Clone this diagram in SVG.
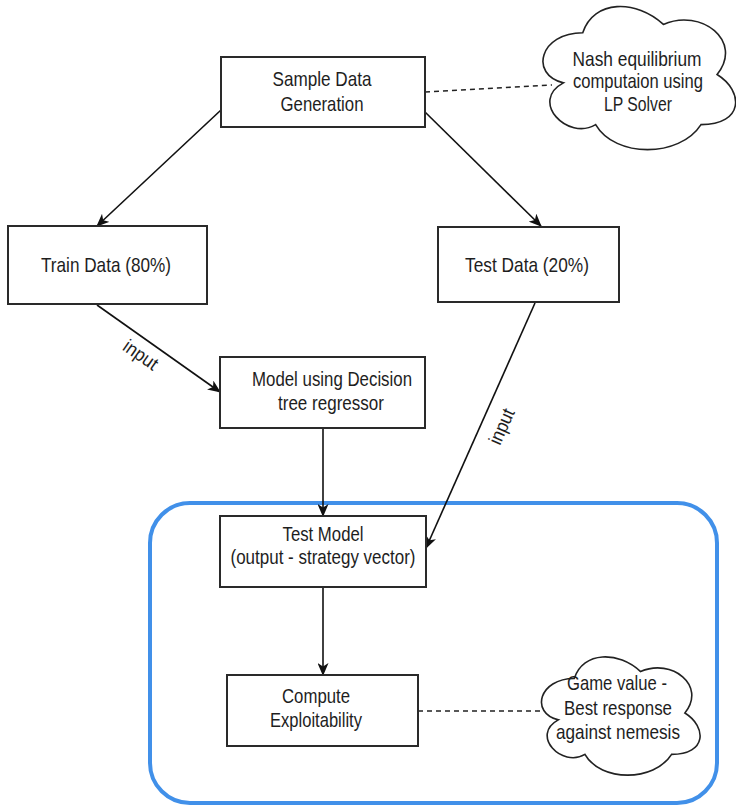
<svg xmlns="http://www.w3.org/2000/svg" width="736" height="806" viewBox="0 0 736 806">
  <defs>
    <style>
      .box { fill: #ffffff; stroke: #2a2a2a; stroke-width: 2; }
      .cloud { fill: #ffffff; stroke: #222222; stroke-width: 1.6; }
      .lbl { font-family: "Liberation Sans", Arial, sans-serif; font-size: 21px; fill: #1e1e1e; text-anchor: middle; }
      .elbl { font-family: "Liberation Sans", Arial, sans-serif; font-size: 19px; fill: #1e1e1e; text-anchor: middle; }
      .edge { stroke: #111111; stroke-width: 1.6; fill: none; }
      .dash { stroke: #222222; stroke-width: 1.6; fill: none; stroke-dasharray: 5 4; }
      .group { fill: none; stroke: #4190e9; stroke-width: 4; }
    </style>
    <marker id="arr" viewBox="0 0 13 11" refX="12" refY="5.5" markerWidth="13" markerHeight="11" orient="auto" markerUnits="userSpaceOnUse">
      <path d="M0,0 L13,5.5 L0,11 L3.5,5.5 Z" fill="#111111"/>
    </marker>
  </defs>

  <rect width="736" height="806" fill="#ffffff"/>

  <g id="container">
    <rect class="group" x="150" y="503" width="567" height="300" rx="40" ry="40"/>
  </g>

  <g id="connectors">
    <line class="edge" x1="221" y1="110" x2="97" y2="226" marker-end="url(#arr)"/>
    <line class="edge" x1="425" y1="112" x2="541" y2="226" marker-end="url(#arr)"/>
    <line class="edge" x1="97" y1="305" x2="220" y2="392" marker-end="url(#arr)"/>
    <line class="edge" x1="323" y1="428" x2="323" y2="516" marker-end="url(#arr)"/>
    <line class="edge" x1="535" y1="303" x2="426" y2="548" marker-end="url(#arr)"/>
    <line class="edge" x1="323" y1="587" x2="323" y2="675" marker-end="url(#arr)"/>
    <line class="dash" x1="425" y1="92" x2="552" y2="85"/>
    <line class="dash" x1="418" y1="711" x2="543" y2="711"/>
    <text class="elbl" transform="translate(140,356) rotate(35)" x="0" y="5" textLength="38" lengthAdjust="spacingAndGlyphs">input</text>
    <text class="elbl" transform="translate(503,427) rotate(-66)" x="0" y="5" textLength="37" lengthAdjust="spacingAndGlyphs">input</text>
  </g>

  <g id="sample-data-generation">
    <rect class="box" x="221" y="57" width="204" height="70"/>
    <text class="lbl" x="322" y="86" textLength="99" lengthAdjust="spacingAndGlyphs">Sample Data</text>
    <text class="lbl" x="322" y="111" textLength="83" lengthAdjust="spacingAndGlyphs">Generation</text>
  </g>

  <g id="nash-cloud">
    <path class="cloud" d="M582.75,32.75 C539.75,32.75 529,74.5 563.4,82.85 C529,101.2 567.7,141.3 595.65,124.6 C615,158 679.5,158 701,124.6 C744,124.6 744,91.2 717.1,74.5 C744,41.1 701,7.7 663.4,24.4 C636.5,-0.65 593.5,-0.65 582.75,32.75 Z"/>
    <text class="lbl" x="637" y="66" textLength="129" lengthAdjust="spacingAndGlyphs">Nash equilibrium</text>
    <text class="lbl" x="638" y="88" textLength="130" lengthAdjust="spacingAndGlyphs">computaion using</text>
    <text class="lbl" x="638" y="111" textLength="68" lengthAdjust="spacingAndGlyphs">LP Solver</text>
  </g>

  <g id="train-data">
    <rect class="box" x="8" y="226" width="199" height="78"/>
    <text class="lbl" x="106" y="272" textLength="130" lengthAdjust="spacingAndGlyphs">Train Data (80%)</text>
  </g>

  <g id="test-data">
    <rect class="box" x="438" y="227" width="181" height="75"/>
    <text class="lbl" x="527" y="272" textLength="124" lengthAdjust="spacingAndGlyphs">Test Data (20%)</text>
  </g>

  <g id="model">
    <rect class="box" x="220" y="357" width="205" height="71"/>
    <text class="lbl" x="332" y="386" textLength="160" lengthAdjust="spacingAndGlyphs">Model using Decision</text>
    <text class="lbl" x="331" y="410" textLength="106" lengthAdjust="spacingAndGlyphs">tree regressor</text>
  </g>

  <g id="test-model">
    <rect class="box" x="220" y="516" width="206" height="71"/>
    <text class="lbl" x="323" y="541" textLength="81" lengthAdjust="spacingAndGlyphs">Test Model</text>
    <text class="lbl" x="323" y="564" textLength="185" lengthAdjust="spacingAndGlyphs">(output - strategy vector)</text>
  </g>

  <g id="compute-exploitability">
    <rect class="box" x="227" y="675" width="191" height="71"/>
    <text class="lbl" x="316" y="703" textLength="68" lengthAdjust="spacingAndGlyphs">Compute</text>
    <text class="lbl" x="316" y="727" textLength="92" lengthAdjust="spacingAndGlyphs">Exploitability</text>
  </g>

  <g id="game-value-cloud">
    <path class="cloud" d="M574.25,678.5 C538.85,678.5 530,713 558.3,719.9 C530,735.1 561.9,768.2 584.9,754.4 C600.8,782 653.9,782 671.6,754.4 C707,754.4 707,726.8 684.9,713 C707,685.4 671.6,657.8 640.6,671.6 C618.5,650.9 583.1,650.9 574.25,678.5 Z"/>
    <text class="lbl" x="617" y="690" textLength="100" lengthAdjust="spacingAndGlyphs">Game value -</text>
    <text class="lbl" x="618" y="715" textLength="108" lengthAdjust="spacingAndGlyphs">Best response</text>
    <text class="lbl" x="618" y="739" textLength="124" lengthAdjust="spacingAndGlyphs">against nemesis</text>
  </g>
</svg>
